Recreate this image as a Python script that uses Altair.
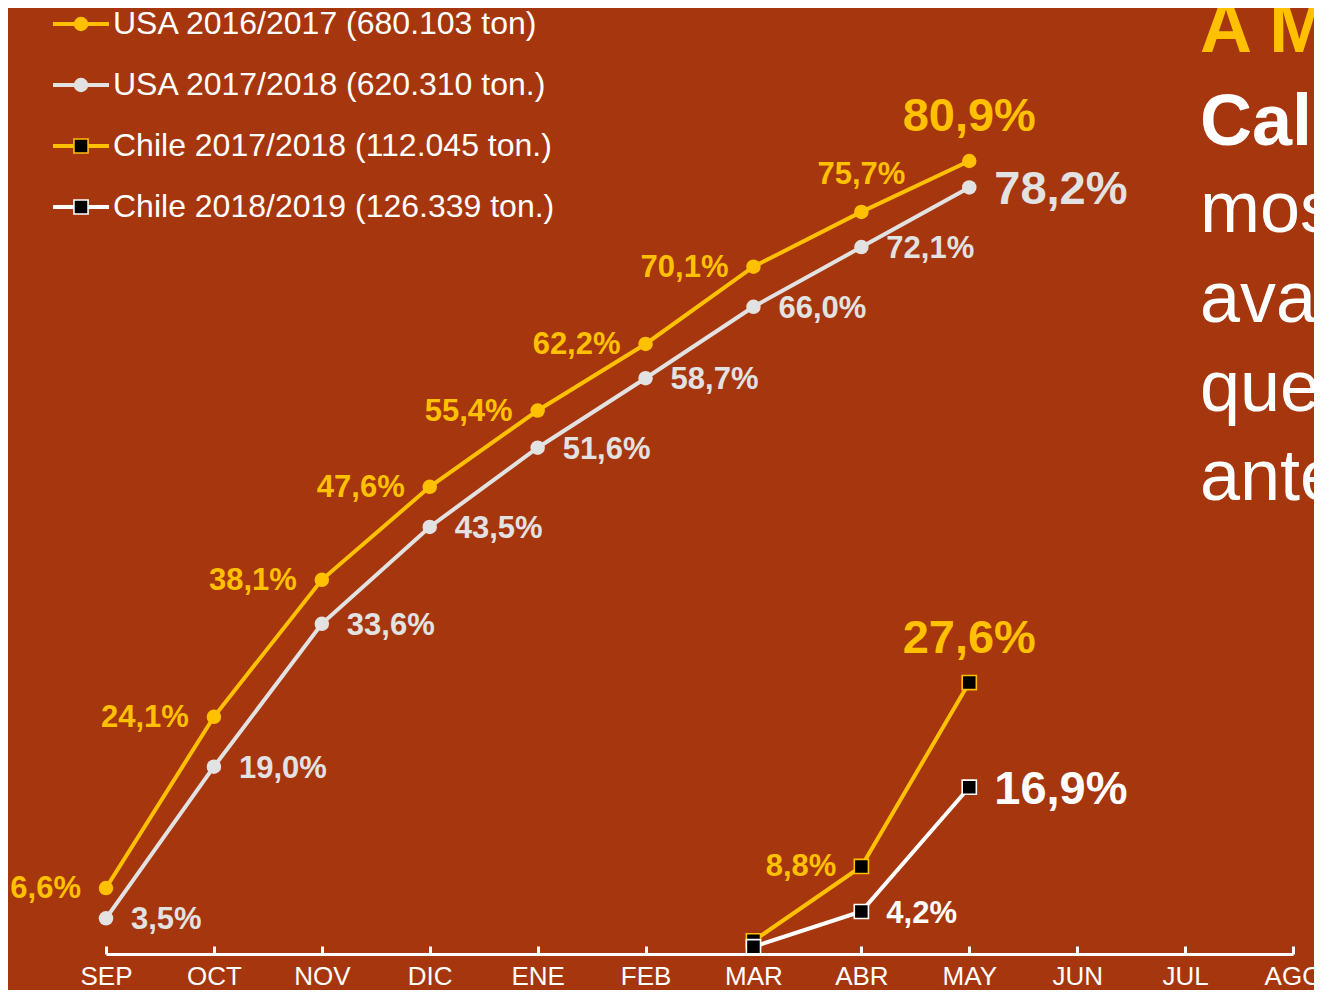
import altair as alt
import pandas as pd

# ---------------- data ----------------
months = ["SEP", "OCT", "NOV", "DIC", "ENE", "FEB", "MAR", "ABR", "MAY", "JUN", "JUL", "AGO"]
chile_months = ["MAR", "ABR", "MAY"]

series_names = [
    "USA 2016/2017 (680.103 ton)",
    "USA 2017/2018 (620.310 ton.)",
    "Chile 2017/2018 (112.045 ton.)",
    "Chile 2018/2019 (126.339 ton.)",
]
series_kinds = ["usa", "usa", "chile", "chile"]
series_colors = ["#FFC000", "#E2E2E2", "#FFC000", "#FFFFFF"]

usa_1617_values = [6.6, 24.1, 38.1, 47.6, 55.4, 62.2, 70.1, 75.7, 80.9]
usa_1718_values = [3.5, 19.0, 33.6, 43.5, 51.6, 58.7, 66.0, 72.1, 78.2]
chile_1718_values = [1.2, 8.8, 27.6]
chile_1819_values = [0.6, 4.2, 16.9]

# where each value label sits relative to its point
usa_1617_place = ["left", "left", "left", "left", "left", "left", "left", "above", "bigabove"]
usa_1718_place = ["right", "right", "right", "right", "right", "right", "right", "right", "bigright"]
chile_1718_place = ["none", "left", "bigabove"]
chile_1819_place = ["none", "right", "bigright"]

side_text = ["A MAYO", "California", "mostró un", "avance menor", "que el año", "anterior"]

BG = "#A6360D"
FONT = "Liberation Sans"


def fmt(v):
    return f"{v:.1f}".replace(".", ",") + "%"


rows = []
for name, kind, vals, mths, places in [
    (series_names[0], "usa", usa_1617_values, months[: len(usa_1617_values)], usa_1617_place),
    (series_names[1], "usa", usa_1718_values, months[: len(usa_1718_values)], usa_1718_place),
    (series_names[2], "chile", chile_1718_values, chile_months, chile_1718_place),
    (series_names[3], "chile", chile_1819_values, chile_months, chile_1819_place),
]:
    for m, v, p in zip(mths, vals, places):
        rows.append(dict(series=name, kind=kind, month=m, idx=months.index(m),
                         value=v, label=fmt(v), place=p))
df = pd.DataFrame(rows)

leg_df = pd.DataFrame({"row": list(range(4)), "series": series_names, "kind": series_kinds})

# ---------------- encodings ----------------
color_scale = alt.Scale(domain=series_names, range=series_colors)
COLOR = alt.Color("series:N", scale=color_scale, legend=None)

X = alt.X(
    "month:N",
    scale=alt.Scale(type="point", domain=months, range=[98, 1285], padding=0),
    axis=alt.Axis(
        title=None, labelAngle=0, grid=False,
        domainColor="white", domainWidth=3,
        tickColor="white", tickWidth=3, tickSize={"expr": "-8"},
        labelColor="white", labelFont=FONT, labelFontSize=26,
        labelPadding=17, labelBaseline="top",
    ),
)
Y = alt.Y("value:Q", scale=alt.Scale(domain=[0, 80.9], range=[944.6, 153], nice=False, zero=False), axis=None)

base = alt.Chart(df)

lines = base.mark_line(strokeWidth=4).encode(x=X, y=Y, color=COLOR, detail="series:N", order="idx:Q")

usa_pts = base.transform_filter(alt.datum.kind == "usa").mark_point(
    shape="circle", filled=True, size=210, opacity=1
).encode(x=X, y=Y, color=COLOR)

chile_pts = base.transform_filter(alt.datum.kind == "chile").mark_point(
    shape="square", filled=True, size=200, opacity=1, strokeWidth=1.6
).encode(x=X, y=Y, fill=alt.value("black"),
         stroke=alt.Stroke("series:N", scale=color_scale, legend=None))


def labels(place, size, **kw):
    return base.transform_filter(alt.datum.place == place).mark_text(
        font=FONT, fontWeight="bold", fontSize=size, baseline="middle", **kw
    ).encode(x=X, y=Y, text="label:N", color=COLOR)


txt_left = labels("left", 31, align="right", dx=-25, dy=1)
txt_right = labels("right", 31, align="left", dx=25, dy=2)
txt_above = labels("above", 31, align="center", dy=-37)
txt_bigabove = labels("bigabove", 47, align="center", dy=-44)
txt_bigright = labels("bigright", 47, align="left", dx=25, dy=3)

main = alt.layer(lines, usa_pts, chile_pts, txt_left, txt_right, txt_above, txt_bigabove, txt_bigright)

# ---------------- legend (top-left) ----------------
ROW = alt.Y("row:O", scale=alt.Scale(type="point", domain=[0, 1, 2, 3], range=[16, 199], padding=0), axis=None)
lb = alt.Chart(leg_df)
leg_rule = lb.mark_rule(strokeWidth=4).encode(x=alt.value(45), x2=alt.value(101), y=ROW, color=COLOR)
leg_circle = lb.transform_filter(alt.datum.kind == "usa").mark_point(
    shape="circle", filled=True, size=210, opacity=1).encode(x=alt.value(73), y=ROW, color=COLOR)
leg_square = lb.transform_filter(alt.datum.kind == "chile").mark_point(
    shape="square", filled=True, size=200, opacity=1, strokeWidth=1.6).encode(
    x=alt.value(73), y=ROW, fill=alt.value("black"),
    stroke=alt.Stroke("series:N", scale=color_scale, legend=None))
leg_text = lb.mark_text(align="left", baseline="middle", font=FONT, fontSize=32, color="white").encode(
    x=alt.value(105), y=ROW, text="series:N")
legend = alt.layer(leg_rule, leg_circle, leg_square, leg_text)

# ---------------- side text (cut off at right edge) ----------------
side_styles = [
    dict(color="#FFC000", fontWeight="bold", fontSize=72, y=44),
    dict(color="white", fontWeight="bold", fontSize=72, y=137),
    dict(color="white", fontWeight="normal", fontSize=72, y=224),
    dict(color="white", fontWeight="normal", fontSize=72, y=314),
    dict(color="white", fontWeight="normal", fontSize=72, y=403),
    dict(color="white", fontWeight="normal", fontSize=72, y=492),
]
side_layers = []
for t, st in zip(side_text, side_styles):
    side_layers.append(
        alt.Chart(pd.DataFrame({"t": [t]})).mark_text(
            align="left", baseline="alphabetic", font=FONT,
            fontWeight=st["fontWeight"], fontSize=st["fontSize"], color=st["color"],
        ).encode(x=alt.value(1192), y=alt.value(st["y"]), text="t:N")
    )

chart = alt.layer(main, legend, *side_layers).resolve_scale(
    x="independent", y="independent"
).properties(
    width=1306, height=946,
    autosize=alt.AutoSizeParams(type="none"),
    padding={"left": 0, "top": 0, "right": 0, "bottom": 36},
    background=BG,
).configure_view(stroke=None)

chart.save("out.html", embed_options={"renderer": "svg", "actions": False})
